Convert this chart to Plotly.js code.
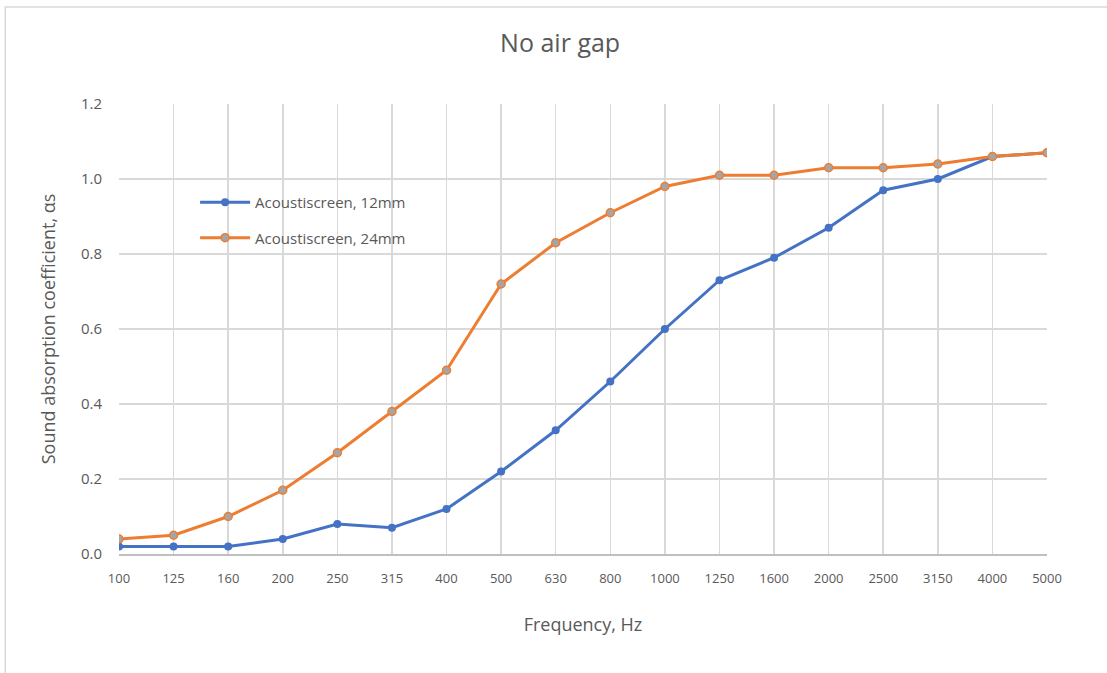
<!DOCTYPE html>
<html>
<head>
<meta charset="utf-8">
<script src="https://cdn.plot.ly/plotly-3.0.1.min.js"></script>
<style>
html,body{margin:0;padding:0;background:#fff;}
#chart{width:1107px;height:673px;}
</style>
</head>
<body>
<div id="chart"></div>
<script>
var frequencies = ["100","125","160","200","250","315","400","500","630","800","1000","1250","1600","2000","2500","3150","4000","5000"];
var series12mm = [0.02,0.02,0.02,0.04,0.08,0.07,0.12,0.22,0.33,0.46,0.60,0.73,0.79,0.87,0.97,1.00,1.06,1.07];
var series24mm = [0.04,0.05,0.10,0.17,0.27,0.38,0.49,0.72,0.83,0.91,0.98,1.01,1.01,1.03,1.03,1.04,1.06,1.07];
var yTicks = [0,0.2,0.4,0.6,0.8,1.0,1.2];
var yTickLabels = ["0.0","0.2","0.4","0.6","0.8","1.0","1.2"];

var fontFam = '"Open Sans", "Noto Sans", sans-serif';

var traces = [
  {
    x: frequencies, y: series12mm, type: 'scatter', mode: 'lines+markers',
    name: 'Acoustiscreen, 12mm', legendgroup: 'a',
    line: {color: '#4472C4', width: 3},
    marker: {color: '#4472C4', size: 8}
  },
  {
    x: frequencies, y: series24mm, type: 'scatter', mode: 'lines+markers',
    name: 'Acoustiscreen, 24mm', legendgroup: 'b',
    line: {color: '#ED7D31', width: 3},
    marker: {color: '#A5A5A5', size: 8, line: {color: '#ED7D31', width: 1.5}}
  }
];

var layout = {
  width: 1107, height: 673,
  margin: {l: 119, r: 60, t: 104, b: 119, pad: 0},
  paper_bgcolor: '#fff', plot_bgcolor: '#fff',
  font: {family: fontFam, color: '#595959'},
  title: {text: 'No air gap', font: {size: 25, color: '#595959', family: fontFam}, x: 0.506, xanchor: 'center', y: 0.935, yanchor: 'middle'},
  xaxis: {
    type: 'category', range: [0, 17],
    showgrid: true, gridcolor: '#D9D9D9', gridwidth: 1.5,
    showline: true, linecolor: '#BFBFBF', linewidth: 1.5,
    ticks: '', tickfont: {size: 13, color: '#595959'},
    ticklabelstandoff: 12,
    title: {text: 'Frequency, Hz', font: {size: 18, color: '#595959'}, standoff: 32},
    fixedrange: true, zeroline: false
  },
  yaxis: {
    range: [0, 1.2], tickvals: yTicks, ticktext: yTickLabels,
    showgrid: true, gridcolor: '#D9D9D9', gridwidth: 1.5,
    zeroline: false, showline: false,
    ticks: '', tickfont: {size: 15, color: '#595959'},
    ticklabelstandoff: 16,
    title: {text: 'Sound absorption coefficient, \u03b1s', font: {size: 18, color: '#595959'}, standoff: 20},
    fixedrange: true
  },
  showlegend: true,
  legend: {
    x: 0.082, y: 0.818, xanchor: 'left', yanchor: 'top',
    bgcolor: 'rgba(255,255,255,0)', borderwidth: 0,
    font: {size: 15, color: '#595959', family: fontFam},
    traceorder: 'grouped', tracegroupgap: 13, itemwidth: 50
  },
  shapes: [
    {type: 'rect', xref: 'paper', yref: 'paper',
     x0: -0.1226, x1: 1.2, y0: -0.5, y1: 1.2156,
     line: {color: '#D9D9D9', width: 1.5}, fillcolor: 'rgba(0,0,0,0)', layer: 'below'}
  ]
};

Plotly.newPlot('chart', traces, layout, {displayModeBar: false, staticPlot: true});
</script>
</body>
</html>
